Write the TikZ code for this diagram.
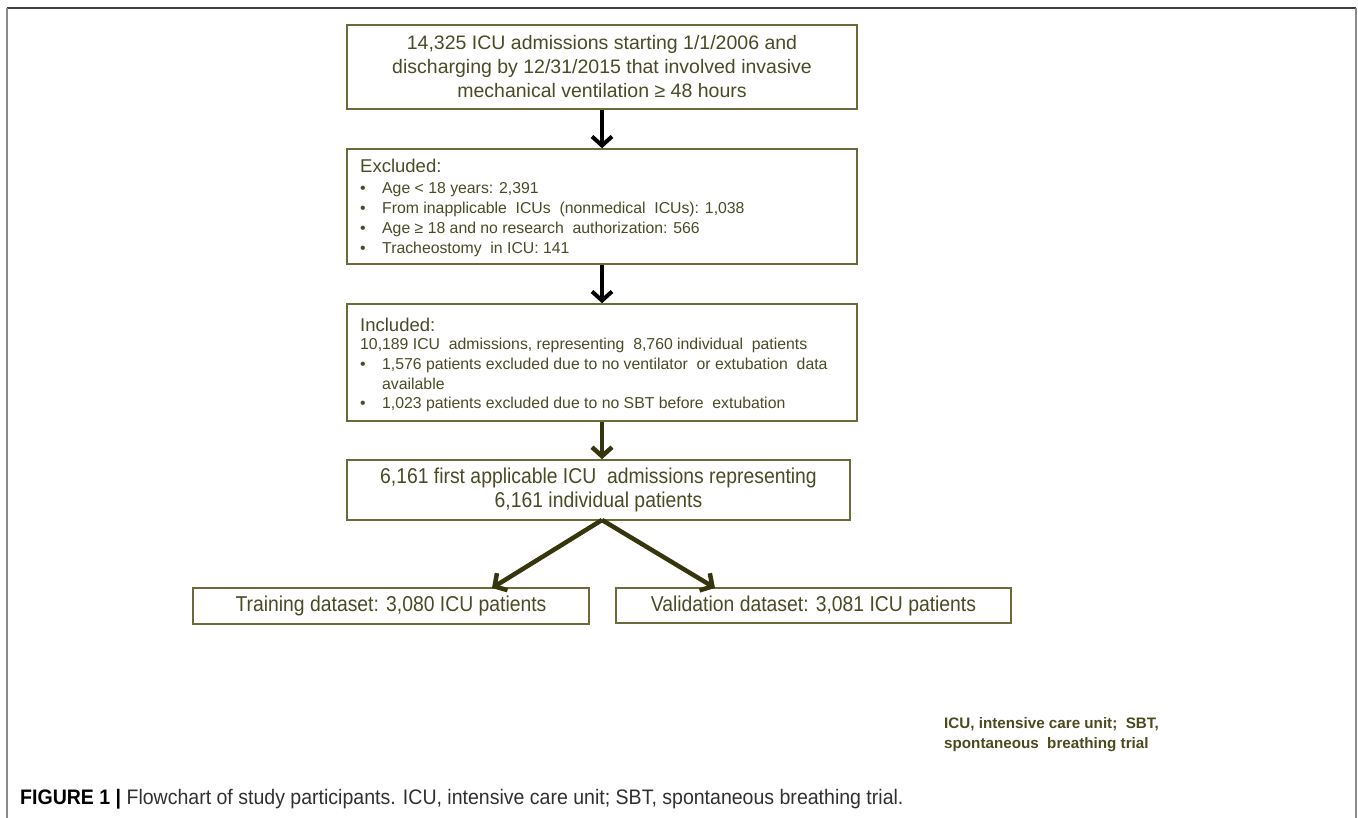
\documentclass[tikz,border=0pt]{standalone}
\usepackage{fontspec}
\setmainfont{Liberation Sans}
\newfontfamily\cond[FakeStretch=0.9]{Liberation Sans}
\newfontfamily\capfont[FakeStretch=0.93]{Liberation Sans}
\usetikzlibrary{arrows.meta}
\definecolor{txt}{HTML}{4A4A26}
\definecolor{brd}{HTML}{6B6B3A}
\definecolor{arr}{HTML}{36360E}
\definecolor{frm}{HTML}{8A8A8A}
\definecolor{frmtop}{HTML}{404040}
\definecolor{foot}{HTML}{4A4A1E}
\definecolor{capc}{HTML}{303030}
\begin{document}
\begin{tikzpicture}[x=1pt,y=-1pt,
  box/.style={draw=brd,line width=1.6pt,inner sep=0pt,text=txt},
  bodytxt/.style={anchor=base west,inner sep=0pt,text=txt,font=\fontsize{15.8}{20}\selectfont},
  headtxt/.style={anchor=base west,inner sep=0pt,text=txt,font=\fontsize{18.5}{22}\selectfont},
  blkarrow/.style={line width=4pt,black,-{Straight Barb[length=9pt,width=20pt]}},
  olvarrow/.style={line width=4.5pt,arr,-{Straight Barb[length=9pt,width=20pt]}},
  foottxt/.style={anchor=base west,inner sep=0pt,text=foot,font=\bfseries\fontsize{15.2}{20}\selectfont}
]
\useasboundingbox (0,0) rectangle (1358,818);
% frame
\coordinate (ftl) at (7,8);
\coordinate (ftr) at (1356,8);
\coordinate (fbl) at (7,818);
\coordinate (fbr) at (1356,818);
\draw[frmtop,line width=2pt] (ftl) -- (ftr);
\draw[frm,line width=2pt] (ftl) -- (fbl);
\draw[frm,line width=2pt] (ftr) -- (fbr);

% box 1
\node[box,minimum width=510pt,minimum height=84pt,align=center,
      font=\fontsize{19.5}{24}\selectfont] (b1) at (602,67)
  {14,325 ICU admissions starting 1/1/2006 and\\
   discharging by 12/31/2015 that involved invasive\\
   mechanical ventilation ≥ 48 hours};

% box 2
\node[box,minimum width=510pt,minimum height=115pt] (b2) at (602,206.5) {};
\node[headtxt] (b2h) at (360,173) {Excluded:};
\node[bodytxt] (b2a) at (360,193.5) {•};
\node[bodytxt] (b2at) at (382,193.5) {Age < 18 years: 2,391};
\node[bodytxt] (b2b) at (360,213.5) {•};
\node[bodytxt] (b2bt) at (382,213.5) {From inapplicable\ \ ICUs\ \ (nonmedical\ \ ICUs): 1,038};
\node[bodytxt] (b2c) at (360,233.5) {•};
\node[bodytxt] (b2ct) at (382,233.5) {Age ≥ 18 and no research\ \ authorization: 566};
\node[bodytxt] (b2d) at (360,253.5) {•};
\node[bodytxt] (b2dt) at (382,253.5) {Tracheostomy\ \ in ICU: 141};

% box 3
\node[box,minimum width=510pt,minimum height=117pt] (b3) at (602,362.5) {};
\node[headtxt] (b3h) at (360,332) {Included:};
\node[bodytxt] (b3l) at (360,349.5) {10,189 ICU\ \ admissions, representing\ \ 8,760 individual\ \ patients};
\node[bodytxt] (b3a) at (360,369.5) {•};
\node[bodytxt] (b3at) at (382,369.5) {1,576 patients excluded due to no ventilator\ \ or extubation\ \ data};
\node[bodytxt] (b3at2) at (382,389.5) {available};
\node[bodytxt] (b3b) at (360,408.5) {•};
\node[bodytxt] (b3bt) at (382,408.5) {1,023 patients excluded due to no SBT before\ \ extubation};

% box 4
\node[box,minimum width=503pt,minimum height=60pt,align=center,
      font=\cond\fontsize{21.5}{24}\selectfont] (b4) at (598.5,490)
  {6,161 first applicable ICU\ \ admissions representing\\
   6,161 individual patients};

% bottom boxes
\node[box,minimum width=396pt,minimum height=36pt,
      font=\cond\fontsize{21.5}{24}\selectfont] (tr) at (391,606)
  {Training dataset: 3,080 ICU patients};
\node[box,minimum width=395pt,minimum height=35pt,
      font=\cond\fontsize{21.5}{24}\selectfont] (va) at (813.5,605.5)
  {Validation dataset: 3,081 ICU patients};

% arrows
\draw[blkarrow] (b1.south) -- (b2.north);
\draw[blkarrow] (b2.south) -- (b3.north);
\draw[olvarrow] (b3.south) -- (b3.south |- b4.north);
\coordinate (split) at (602,520);
\coordinate (tipl) at (492,588);
\coordinate (tipr) at (715,588);
\draw[olvarrow] (split) -- (tipl);
\draw[olvarrow] (split) -- (tipr);

% footnote
\node[foottxt] (fn1) at (944,728) {ICU, intensive care unit;\ \ SBT,};
\node[foottxt] (fn2) at (944,748) {spontaneous\ \ breathing trial};

% caption
\node[anchor=base west,inner sep=0pt,text=capc,font=\capfont\fontsize{21}{24}\selectfont] (cap) at (20,804)
  {{\color{black}\bfseries FIGURE 1 |} Flowchart of study participants. ICU, intensive care unit; SBT, spontaneous breathing trial.};
\end{tikzpicture}
\end{document}
